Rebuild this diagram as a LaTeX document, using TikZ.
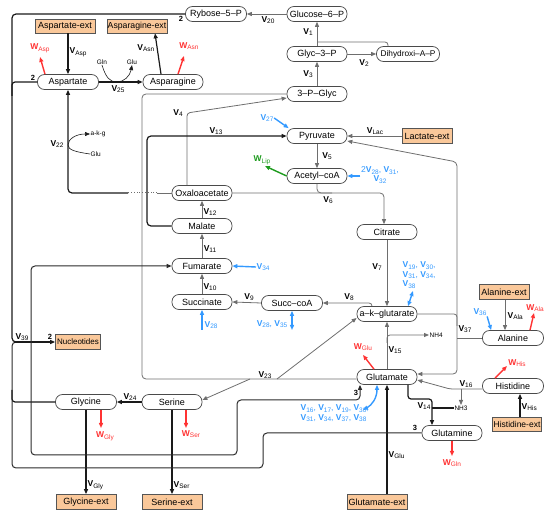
\documentclass[tikz,border=0pt]{standalone}
\usepackage{fontspec}
\setmainfont{Liberation Sans}
\usetikzlibrary{arrows.meta,calc}
\definecolor{gline}{HTML}{6E6E6E}
\definecolor{dk}{HTML}{1A1A1A}
\definecolor{lpk}{HTML}{2A2A2A}
\definecolor{bluec}{HTML}{3399FF}
\definecolor{redc}{HTML}{FF3333}
\definecolor{greenc}{HTML}{1E9B1E}
\definecolor{extf}{HTML}{FAC89A}
\definecolor{extb}{HTML}{555555}
\definecolor{nodeb}{HTML}{4A4A4A}
\newcommand\myV[1]{\textbf{V}\raisebox{-0.35ex}{\fontsize{6.5}{6.5}\selectfont #1}}
\newcommand\myW[1]{\textbf{W}\raisebox{-0.35ex}{\fontsize{6.5}{6.5}\selectfont #1}}
\begin{document}
\begin{tikzpicture}[x=1pt,y=-1pt,
  met/.style={draw=nodeb, line width=0.7pt, rounded corners=7pt, minimum width=60pt, minimum height=15pt, inner sep=0pt, font=\fontsize{9}{10}\selectfont, fill=white},
  ext/.style={draw=extb, fill=extf, line width=0.7pt, minimum width=60pt, minimum height=14pt, inner sep=0pt, font=\fontsize{9}{10}\selectfont},
  ar/.style={-{Triangle[length=5pt,width=4pt]}},
  dar/.style={{Triangle[length=5pt,width=4pt]}-{Triangle[length=5pt,width=4pt]}},
  gr/.style={draw=gline, line width=0.8pt},
  bk/.style={draw=dk, line width=1.2pt},
  lp/.style={draw=lpk, line width=1pt},
  thinb/.style={draw=dk, line width=0.6pt},
  bl/.style={draw=bluec, line width=1.4pt},
  rd/.style={draw=redc, line width=1.4pt},
  gn/.style={draw=greenc, line width=1.4pt},
  lab/.style={inner sep=0.5pt, font=\fontsize{8.5}{9}\selectfont},
  blab/.style={lab, text=bluec},
  rlab/.style={lab, text=redc},
  glab/.style={lab, text=greenc},
  num/.style={inner sep=0.5pt, font=\bfseries\fontsize{7.5}{8}\selectfont},
  sm/.style={inner sep=0.5pt, font=\fontsize{6.5}{7}\selectfont}
]
\useasboundingbox (0,0) rectangle (550,516);
% ---------------- nodes
\node[met, minimum width=61pt] (ryb) at (216,14) {Rybose–5–P};
\node[met] (glc) at (317,14) {Glucose–6–P};
\node[ext] (asext) at (65,26) {Aspartate-ext};
\node[ext, font=\fontsize{8.7}{10}\selectfont] (asnext) at (137,26) {Asparagine-ext};
\node[met] (glyc3p) at (317,54) {Glyc–3–P};
\node[met, minimum width=63pt, font=\fontsize{8.3}{10}\selectfont] (dhap) at (408,54) {Dihydroxi–A–P};
\node[met, minimum width=61pt] (asp) at (68,82) {Aspartate};
\node[met] (asn) at (173,82) {Asparagine};
\node[met] (pg3) at (317,94) {3–P–Glyc};
\node[met] (pyr) at (317,136) {Pyruvate};
\node[ext, minimum width=50pt, minimum height=15pt] (lacext) at (427,136) {Lactate-ext};
\node[met] (acoa) at (317,176) {Acetyl–coA};
\node[met] (oaa) at (202,193) {Oxaloacetate};
\node[met] (mal) at (202,226) {Malate};
\node[met] (cit) at (387,232) {Citrate};
\node[met] (fum) at (202,266) {Fumarate};
\node[met] (succ) at (202,302) {Succinate};
\node[met, minimum width=61pt] (scoa) at (292,303) {Succ–coA};
\node[met] (akg) at (387,314) {a–k–glutarate};
\node[ext, minimum width=50pt, minimum height=15pt] (alaext) at (504,292) {Alanine-ext};
\node[met, minimum width=61pt] (ala) at (513,338) {Alanine};
\node[ext, minimum width=45pt, minimum height=15pt, font=\fontsize{8}{9}\selectfont] (nuc) at (78,342) {Nucleotides};
\node[met] (glu) at (387,377) {Glutamate};
\node[met, minimum width=61pt] (his) at (513,386) {Histidine};
\node[met, minimum width=61pt] (gly) at (86,402) {Glycine};
\node[met] (ser) at (172,402) {Serine};
\node[met] (gln) at (452,433) {Glutamine};
\node[ext, minimum width=49pt, font=\fontsize{8.5}{10}\selectfont] (hisext) at (517,424) {Histidine-ext};
\node[ext, minimum height=15pt] (glyext) at (86,502) {Glycine-ext};
\node[ext, minimum height=15pt] (serext) at (172,502) {Serine-ext};
\node[ext, minimum height=15pt] (gluext) at (377,502) {Glutamate-ext};
% small species texts
\node[sm] (gln25) at (102,62) {Gln};
\node[sm] (glu25) at (132,62) {Glu};
\node[sm, anchor=west] (akg22) at (90,134) {a-k-g};
\node[sm, anchor=west] (glu22) at (90,154) {Glu};
\node[sm, anchor=west] (nh4) at (429,335) {NH4};
\node[sm] (nh3) at (461,408) {NH3};
% ---------------- V labels
\node[lab] (l20) at (268,20) {\myV{20}};
\node[lab] (l1) at (308,32) {\myV{1}};
\node[lab] (l2) at (364,63) {\myV{2}};
\node[lab] (l3) at (308,74) {\myV{3}};
\node[lab] (l4) at (178,113) {\myV{4}};
\node[lab] (l13) at (216,131) {\myV{13}};
\node[lab] (l5) at (327,156) {\myV{5}};
\node[lab] (lLac) at (375,131) {\myV{Lac}};
\node[lab] (l6) at (328,200) {\myV{6}};
\node[lab] (l12) at (210,212) {\myV{12}};
\node[lab] (l11) at (210,249) {\myV{11}};
\node[lab] (l10) at (210,287) {\myV{10}};
\node[lab] (l9) at (249,297) {\myV{9}};
\node[lab] (l8) at (349,297) {\myV{8}};
\node[lab] (l7) at (377,267) {\myV{7}};
\node[lab] (l15) at (395,350) {\myV{15}};
\node[lab] (l14) at (424,406) {\myV{14}};
\node[lab] (l16) at (466,384) {\myV{16}};
\node[lab] (l37) at (465,329) {\myV{37}};
\node[lab] (l23) at (265,375) {\myV{23}};
\node[lab] (l24) at (130,397) {\myV{24}};
\node[lab] (l22) at (57,144) {\myV{22}};
\node[lab] (l25) at (118,89) {\myV{25}};
\node[lab] (l39) at (22,337) {\myV{39}};
\node[lab,anchor=west] (lAsp) at (69,52) {\myV{Asp}};
\node[lab,anchor=east] (lAsn) at (155,48) {\myV{Asn}};
\node[lab,anchor=west] (lAla) at (507,316) {\myV{Ala}};
\node[lab,anchor=west] (lHis) at (521,407) {\myV{His}};
\node[lab,anchor=west] (lGlu) at (388,455) {\myV{Glu}};
\node[lab,anchor=west] (lGly) at (87,485) {\myV{Gly}};
\node[lab,anchor=west] (lSer) at (173,485) {\myV{Ser}};
% W labels
\node[rlab] (wAsp) at (40,48) {\myW{Asp}};
\node[rlab] (wAsn) at (189,46) {\myW{Asn}};
\node[rlab] (wGlu) at (363,347) {\myW{Glu}};
\node[rlab] (wHis) at (517,363) {\myW{His}};
\node[rlab] (wAla) at (535,308) {\myW{Ala}};
\node[rlab] (wGln) at (452,463) {\myW{Gln}};
\node[rlab] (wSer) at (191,434) {\myW{Ser}};
\node[rlab] (wGly) at (105,436) {\myW{Gly}};
\node[glab] (wLip) at (262,160) {\myW{Lip}};
% blue labels
\node[blab] (b27) at (267,118) {\myV{27}};
\node[blab] (b36) at (480,312) {\myV{36}};
\node[blab,anchor=west] (b34) at (256,267) {\myV{34}};
\node[blab,anchor=west] (b28) at (204,325) {\myV{28}};
\node[blab,anchor=east] (b2835) at (288,324) {\myV{28}, \myV{35}};
\node[blab,align=center,font=\fontsize{8.5}{9}\selectfont] (bacoa) at (380,175) {2\myV{28}, \myV{31},\\\myV{32}};
\node[blab,align=left,anchor=north west,font=\fontsize{8.5}{9.5}\selectfont] (bakg) at (402,261) {\myV{19}, \myV{30},\\\myV{31}, \myV{34},\\\myV{38}};
\node[blab,align=left,anchor=north west,font=\fontsize{8.5}{9.5}\selectfont] (bglu) at (300,404) {\myV{16}, \myV{17}, \myV{19}, \myV{30},\\\myV{31}, \myV{34}, \myV{37}, \myV{38}};
% numbers
\node[num] (n2a) at (181,19) {2};
\node[num] (n2b) at (33,78) {2};
\node[num] (n2c) at (50,337) {2};
\node[num] (n3a) at (356,393) {3};
\node[num] (n3b) at (415,428) {3};
% ---------------- connectors
% upper glycolysis
\draw[gr,ar] (glc.west) -- (ryb.east);
\draw[gr,ar] (glyc3p.north) -- (glc.south);
\draw[gr,rounded corners=3pt] ([xshift=-20pt]dhap.north) |- (317,42);
\draw[gr,ar] (glyc3p.east) -- (dhap.west);
\draw[gr,ar] (pg3.north) -- (glyc3p.south);
\draw[gr,ar,rounded corners=3pt] ([xshift=-15pt]oaa.north) -- (187,113) -- ([yshift=-4pt]pg3.west);
% big gray loop V23
\draw[gr,rounded corners=4pt] (pg3.west) -- (142,94) -- (142,379) -- ([yshift=-2pt]glu.west);
\draw[gr,ar] (250,379) -- ([yshift=2pt]ser.east);
\draw[gr,ar] (277,379) -- ([yshift=-4pt]akg.west);
% V13
\draw[bk,ar,rounded corners=4pt] (mal.west) -- (147,226) -- (147,136) -- (pyr.west);
% pyruvate
\draw[gr,ar] (pyr.south) -- (acoa.north);
\draw[bl,ar] (b27.east) -- ([xshift=2pt]pyr.north west);
\draw[gr,ar] (lacext.west) -- (pyr.east);
\draw[gn,ar] (acoa.west) -- (265,166);
\draw[bl,ar] (bacoa.west |- acoa.east) -- (acoa.east);
% V6
\draw[gr,ar,rounded corners=4pt] (oaa.east) -- (384,193) -- ([xshift=-3pt]cit.north);
\draw[gr,rounded corners=4pt] (acoa.south) |- (332,193);
% V22
\draw[gr] (oaa.west) -- (157,193);
\draw[gr,dotted,line width=1pt] (157,193) -- (128,193);
\draw[bk,ar,rounded corners=4pt] (128,193) -- (68,193) -- (asp.south);
\draw[thinb,ar] (glu22.west) .. controls (76,152) and (68,150) .. (68,145) .. controls (68,139) and (76,134) .. (akg22.west);
% TCA
\draw[gr,ar] (mal.north) -- (oaa.south);
\draw[gr,ar] (fum.north) -- (mal.south);
\draw[gr,ar] (succ.north) -- (fum.south);
\draw[bl,ar] (b34.west) -- (fum.east);
\draw[bl,ar] (202,330) -- (succ.south);
\draw[gr,ar] (scoa.west) -- (succ.east);
\draw[gr,ar,rounded corners=3pt] ([xshift=-15pt]akg.north) |- (scoa.east);
\draw[bl,dar] (scoa.south) -- (292,330);
\draw[gr,ar] (cit.south) -- (akg.north);
\draw[bl,dar] ([xshift=21pt]akg.north) -- (413,291);
% V15
\draw[gr,ar] (glu.north) -- (akg.south);
\draw[gr,ar,rounded corners=3pt] (387,343) |- (nh4.west);
\draw[rd,ar] ([xshift=-13pt]glu.north) -- (363,355);
\draw[bl,dar] ([xshift=-10pt]glu.south) .. controls (377,398) and (372,405) .. (363,410);
% V37
\draw[gr,rounded corners=3pt] (akg.east) -| (457,326);
\draw[gr] (ala.west) -- (457,338);
\draw[gr,dar,rounded corners=4pt] ([yshift=-5pt]pyr.east) -- (457,162) -- (457,374) -- ([yshift=3pt]glu.east);
% alanine
\draw[gr,ar] ([xshift=1pt]alaext.south) -- ([xshift=-8pt]ala.north);
\draw[bl,ar] (b36.south east) -- ([xshift=9pt]ala.north west);
\draw[rd,ar] ([xshift=17pt]ala.north) -- (534,313);
% histidine
\draw[gr,ar,rounded corners=2pt] ([yshift=-3pt]his.west) -- (450,389) -- ([yshift=-3pt]glu.east);
\draw[gr,ar] (461,389) -- (nh3.north);
\draw[rd,ar] ([xshift=-18pt]his.north) -- (507,366);
\draw[bk,ar] ([xshift=3pt]hisext.north) -- ([xshift=7pt]his.south);
% glutamine
\draw[bk,ar,rounded corners=3pt] ([xshift=21pt]glu.south) -- (408,399) -- (432,399) -- ([xshift=-20pt]gln.north);
\draw[bk] (nh3.west) -- (432,408);
\draw[rd,ar] (gln.south) -- (452,456);
\draw[bk,ar] ([xshift=10pt]gluext.north) -- (glu.south);
% aspartate / asparagine
\draw[bk,ar] (asext.south -| asp.north) -- (asp.north);
\draw[rd,ar] ([xshift=-23pt]asp.north) -- (40,57);
\draw[bk,ar] (asp.east) -- (asn.west);
\draw[thinb,ar] (gln25.south) .. controls (106,78) and (110,82) .. (117,82) .. controls (124,82) and (130,76) .. (glu25.south);
\draw[bk,ar] ([xshift=-12pt]asn.north) -- ([xshift=18pt]asnext.south);
\draw[rd,ar] ([xshift=5pt]asn.north) -- (184,56);
% serine / glycine
\draw[bk,ar] (ser.west) -- (gly.east);
\draw[rd,ar] ([xshift=14pt]ser.south) -- (186,428);
\draw[rd,ar] ([xshift=15pt]gly.south) -- (101,428);
\draw[bk,ar] (gly.south) -- (glyext.north);
\draw[bk,ar] (ser.south) -- (serext.north);
% V39 nucleotide synthesis
\draw[bk,rounded corners=4pt] (ryb.west) -- (12,14) -- (12,342) -- (18,342);
\draw[bk,rounded corners=3pt] (asp.west) -- (12,82) -- (12,96);
\draw[bk,rounded corners=3pt] (gly.west) -- (12,402) -- (12,390);
\draw[lp,rounded corners=4pt] (gln.west) -- (263,433) -- (263,468) -- (12,468) -- (12,342) -- (18,342);
\draw[bk,ar] (14,342) -- (nuc.west);
\draw[lp,dar,rounded corners=4pt] (fum.west) -- (31,266) -- (31,455) -- (237,455) -- (237,400) -- (360,400) -- ([xshift=-27pt]glu.south);
\end{tikzpicture}
\end{document}
